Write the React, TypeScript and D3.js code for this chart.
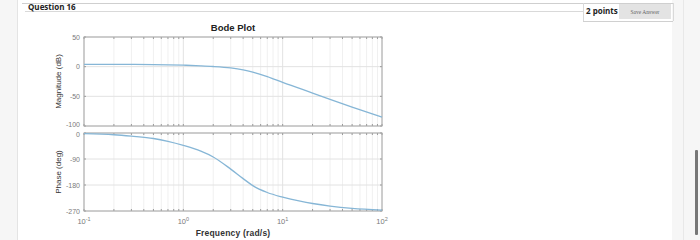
import React from "react";
import * as d3 from "d3";

const freqMag = [0.1, 0.2, 0.5, 1, 1.5, 2, 3, 4, 5, 7, 10, 20, 30, 50, 100];
const magDb = [4, 4, 3.6, 2.5, 1.4, 0.3, -2.2, -5.5, -9.3, -16.8, -26.5, -44.5, -55, -68, -85];
const freqPh = [0.1, 0.2, 0.3, 0.5, 0.7, 1, 1.5, 2, 3, 4, 5, 7, 10, 15, 20, 30, 50, 100];
const phaseDeg = [-2, -6, -11, -19, -29, -43, -63, -83, -125, -158, -182, -206, -222, -236, -244, -253, -261, -267];
const magTicks = [50, 0, -50, -100];
const phaseTicks = [0, -90, -180, -270];
const decadeExps = [-1, 0, 1, 2];

export default function App() {
  const x0 = 84, x1 = 382;
  const x = d3.scaleLog().domain([0.1, 100]).range([x0, x1]);
  const yM = d3.scaleLinear().domain([-100, 50]).range([126, 37]);
  const yP = d3.scaleLinear().domain([-270, 0]).range([211, 133]);

  const minor: number[] = [];
  for (let e = -1; e < 2; e++) for (let k = 2; k <= 9; k++) minor.push(k * Math.pow(10, e));
  const majors = decadeExps.map((e) => Math.pow(10, e));

  const magLine = d3
    .line<number>()
    .x((_, i) => x(freqMag[i]))
    .y((d) => yM(d))
    .curve(d3.curveMonotoneX)(magDb) as string;
  const phLine = d3
    .line<number>()
    .x((_, i) => x(freqPh[i]))
    .y((d) => yP(d))
    .curve(d3.curveMonotoneX)(phaseDeg) as string;

  const font = "'Liberation Sans', Arial, sans-serif";

  const panel = (y: d3.ScaleLinear<number, number>, ticks: number[], key: string) => {
    const [yb, yt] = y.range();
    return (
      <g key={key}>
        <rect x={x0} y={yt} width={x1 - x0} height={yb - yt} fill="#fff" />
        {minor.map((f) => (
          <line key={"mi" + f} x1={x(f)} x2={x(f)} y1={yt} y2={yb} stroke="#f0f0f0" strokeWidth={1} />
        ))}
        {majors.map((f) => (
          <line key={"ma" + f} x1={x(f)} x2={x(f)} y1={yt} y2={yb} stroke="#e2e2e2" strokeWidth={1} />
        ))}
        {ticks.map((t) => (
          <line key={"yg" + t} x1={x0} x2={x1} y1={y(t)} y2={y(t)} stroke="#e2e2e2" strokeWidth={1} />
        ))}
        {minor.concat(majors).map((f) => (
          <g key={"tk" + f}>
            <line x1={x(f)} x2={x(f)} y1={yt} y2={yt + 2} stroke="#999" />
            <line x1={x(f)} x2={x(f)} y1={yb} y2={yb - 2} stroke="#999" />
          </g>
        ))}
        {ticks.map((t, i) => {
          const dy = i === ticks.length - 1 && key === "mag" ? 1 : i === 0 && key === "ph" ? 4 : 2.5;
          return (
            <g key={"yt" + t}>
              <line x1={x0} x2={x0 + 2} y1={y(t)} y2={y(t)} stroke="#999" />
              <line x1={x1} x2={x1 - 2} y1={y(t)} y2={y(t)} stroke="#999" />
              <text x={x0 - 4} y={y(t) + dy} fontSize={7} fill="#7a7a7a" textAnchor="end" fontFamily={font}>
                {t < 0 ? "-" + Math.abs(t) : t}
              </text>
            </g>
          );
        })}
        <rect x={x0} y={yt} width={x1 - x0} height={yb - yt} fill="none" stroke="#a8a8a8" strokeWidth={1} />
      </g>
    );
  };

  return (
    <svg width={700} height={240} style={{ position: "absolute", left: 0, top: 0 }}>
      <rect x={0} y={0} width={700} height={240} fill="#fff" />
      <rect x={0} y={0} width={17} height={240} fill="#f6f6f6" />
      <line x1={17.5} x2={17.5} y1={0} y2={240} stroke="#e4e4e4" />
      <rect x={672} y={0} width={28} height={240} fill="#f6f6f6" />
      <line x1={683.5} x2={683.5} y1={0} y2={240} stroke="#e8e8e8" />
      <rect x={695} y={150} width={3} height={85} fill="#777" rx={1} />
      <line x1={22} x2={673} y1={3.5} y2={3.5} stroke="#cfcfcf" />
      <line x1={25} x2={583} y1={11.5} y2={11.5} stroke="#d9d9d9" />
      <line x1={583.5} x2={583.5} y1={3} y2={21} stroke="#d9d9d9" />
      <line x1={583} x2={673} y1={21.5} y2={21.5} stroke="#d0d0d0" />
      <line x1={673.5} x2={673.5} y1={3} y2={21} stroke="#d9d9d9" />
      <text x={28} y={9.5} fontSize={8} fontWeight="bold" fill="#222" fontFamily="'Open Sans', sans-serif">
        Question 16
      </text>
      <text x={586} y={14} fontSize={8} fontWeight="bold" fill="#222" fontFamily="'Open Sans', sans-serif">
        2 points
      </text>
      <rect x={619} y={4} width={52} height={15} fill="#e3e3e3" />
      <text x={645} y={13.5} fontSize={5.5} fill="#666" textAnchor="middle" fontFamily="'Liberation Serif', serif">
        Save Answer
      </text>

      {panel(yM, magTicks, "mag")}
      {panel(yP, phaseTicks, "ph")}
      <path d={magLine} fill="none" stroke="#86b6d6" strokeWidth={1.3} />
      <path d={phLine} fill="none" stroke="#86b6d6" strokeWidth={1.3} />

      {decadeExps.map((e) => (
        <text key={"xl" + e} x={x(Math.pow(10, e))} y={224} fontSize={7.5} fill="#7a7a7a" textAnchor="middle" fontFamily={font}>
          10
          <tspan dy={-3} fontSize={5.5}>{e}</tspan>
        </text>
      ))}
      <text x={233} y={31} fontSize={9.5} fontWeight="bold" textAnchor="middle" fill="#222" fontFamily={font}>
        Bode Plot
      </text>
      <text x={233} y={236} fontSize={8.5} fontWeight="bold" textAnchor="middle" fill="#333" fontFamily={font} letterSpacing={0.2}>
        Frequency  (rad/s)
      </text>
      <text transform="translate(61,81.5) rotate(-90)" fontSize={8} textAnchor="middle" fill="#333" fontFamily={font}>
        Magnitude (dB)
      </text>
      <text transform="translate(61,172) rotate(-90)" fontSize={8} textAnchor="middle" fill="#333" fontFamily={font}>
        Phase (deg)
      </text>
    </svg>
  );
}
